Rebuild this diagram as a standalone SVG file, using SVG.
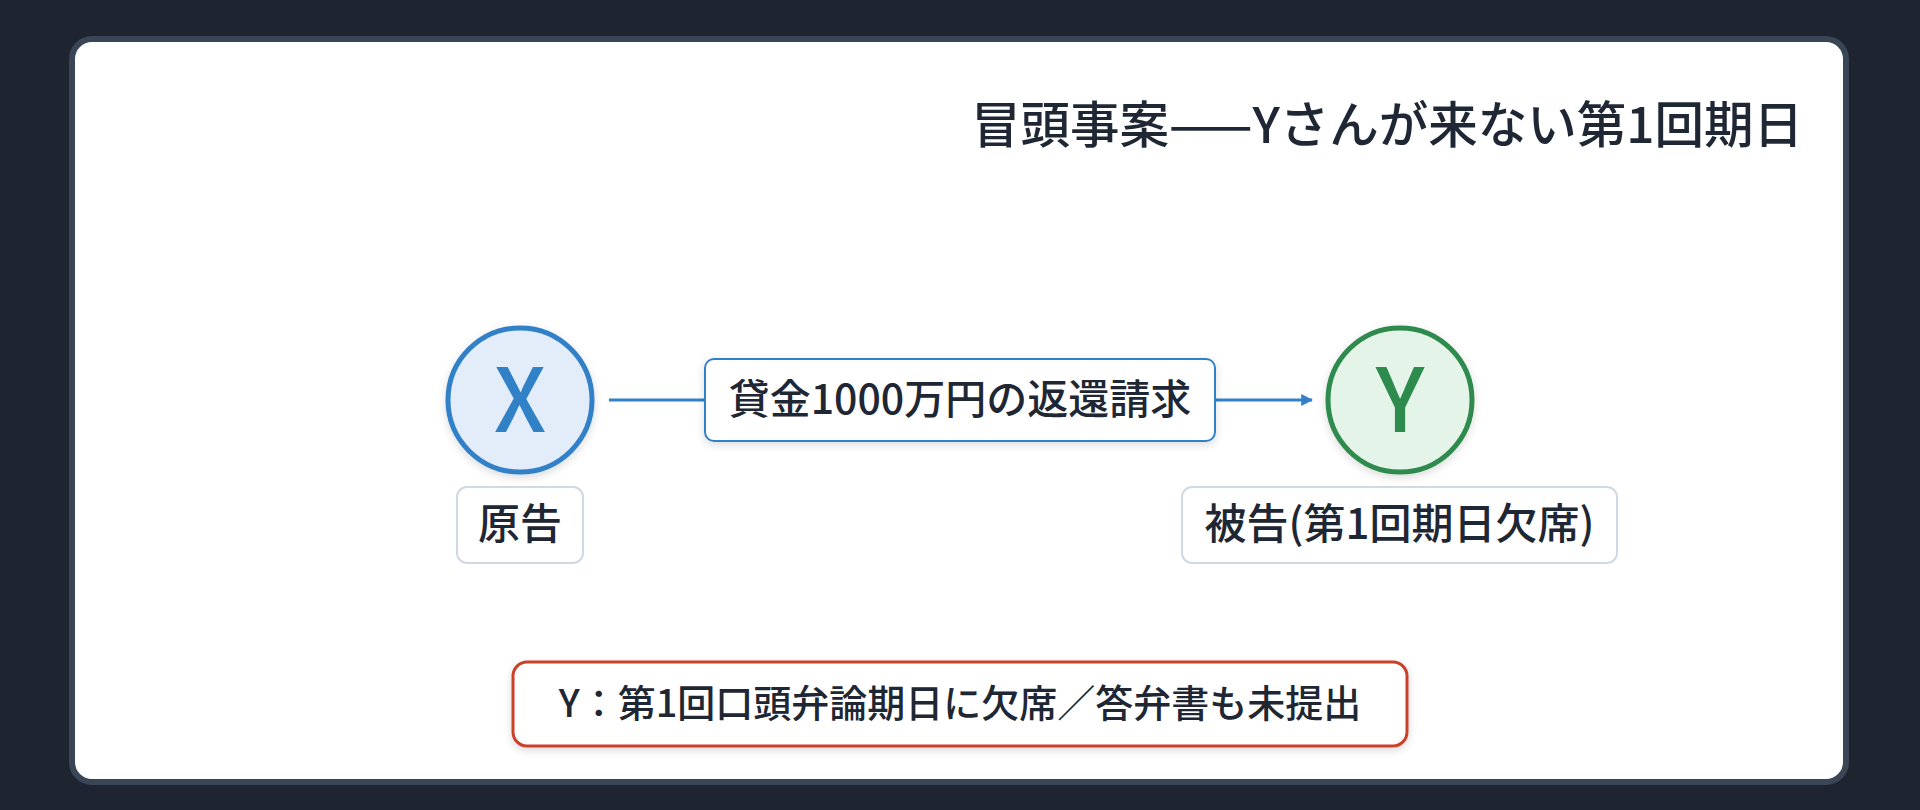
<svg xmlns="http://www.w3.org/2000/svg" width="1920" height="810" viewBox="0 0 1920 810">
<defs>
<filter id="sh" x="-20%" y="-20%" width="140%" height="150%">
<feDropShadow dx="0" dy="3" stdDeviation="4" flood-color="#000" flood-opacity="0.14"/>
</filter>
<marker id="arr" viewBox="0 0 10 10" refX="9" refY="5" markerWidth="4" markerHeight="4" orient="auto" markerUnits="strokeWidth">
<path d="M0,0 L10,5 L0,10 Z" fill="#3180c8"/>
</marker>
<style>
text{font-family:"Noto Sans CJK JP","Noto Sans",sans-serif;fill:#1e2733}
.lbl{font-size:42px;font-weight:500;text-anchor:middle}
.box{fill:#fff;stroke:#cfd8e3;stroke-width:2}
</style>
</defs>
<rect width="1920" height="810" fill="#1e2530"/>
<rect x="72" y="39" width="1774" height="743" rx="20" fill="#fff" stroke="#3a4556" stroke-width="6"/>
<g id="title"><text x="1803" y="143" font-size="49.5" font-weight="500" text-anchor="end">冒頭事案——Yさんが来ない第1回期日</text></g>
<g id="connectors">
<line x1="609" y1="400" x2="1312" y2="400" stroke="#3180c8" stroke-width="3" marker-end="url(#arr)"/>
</g>
<g id="edge-label">
<rect x="705" y="359" width="510" height="82" rx="9" fill="#fff" stroke="#3180c8" stroke-width="2" filter="url(#sh)"/>
<text x="960" y="414" font-size="41" font-weight="500" text-anchor="middle">貸金1000万円の返還請求</text>
</g>
<g id="node-x">
<circle cx="520" cy="400" r="72" fill="#e3edf9" stroke="#3180c8" stroke-width="5" filter="url(#sh)"/>
<text x="520" y="432" font-size="88" font-weight="500" text-anchor="middle" style="fill:#3181c6">X</text>
</g>
<g id="node-y">
<circle cx="1400" cy="400" r="72" fill="#e4f4e8" stroke="#2e8b4e" stroke-width="5" filter="url(#sh)"/>
<text x="1400" y="432" font-size="88" font-weight="500" text-anchor="middle" style="fill:#2e8b4e">Y</text>
</g>
<g id="label-x">
<rect class="box" x="457" y="487" width="126" height="76" rx="10"/>
<text class="lbl" x="520" y="539">原告</text>
</g>
<g id="label-y">
<rect class="box" x="1182" y="487" width="435" height="76" rx="10"/>
<text class="lbl" x="1399.5" y="539">被告(第1回期日欠席)</text>
</g>
<g id="note">
<rect x="513" y="662" width="894" height="84" rx="14" fill="#fff" stroke="#cc3f2a" stroke-width="3" filter="url(#sh)"/>
<text x="960" y="717" font-size="38" font-weight="500" text-anchor="middle">Y：第1回口頭弁論期日に欠席／答弁書も未提出</text>
</g>
</svg>
